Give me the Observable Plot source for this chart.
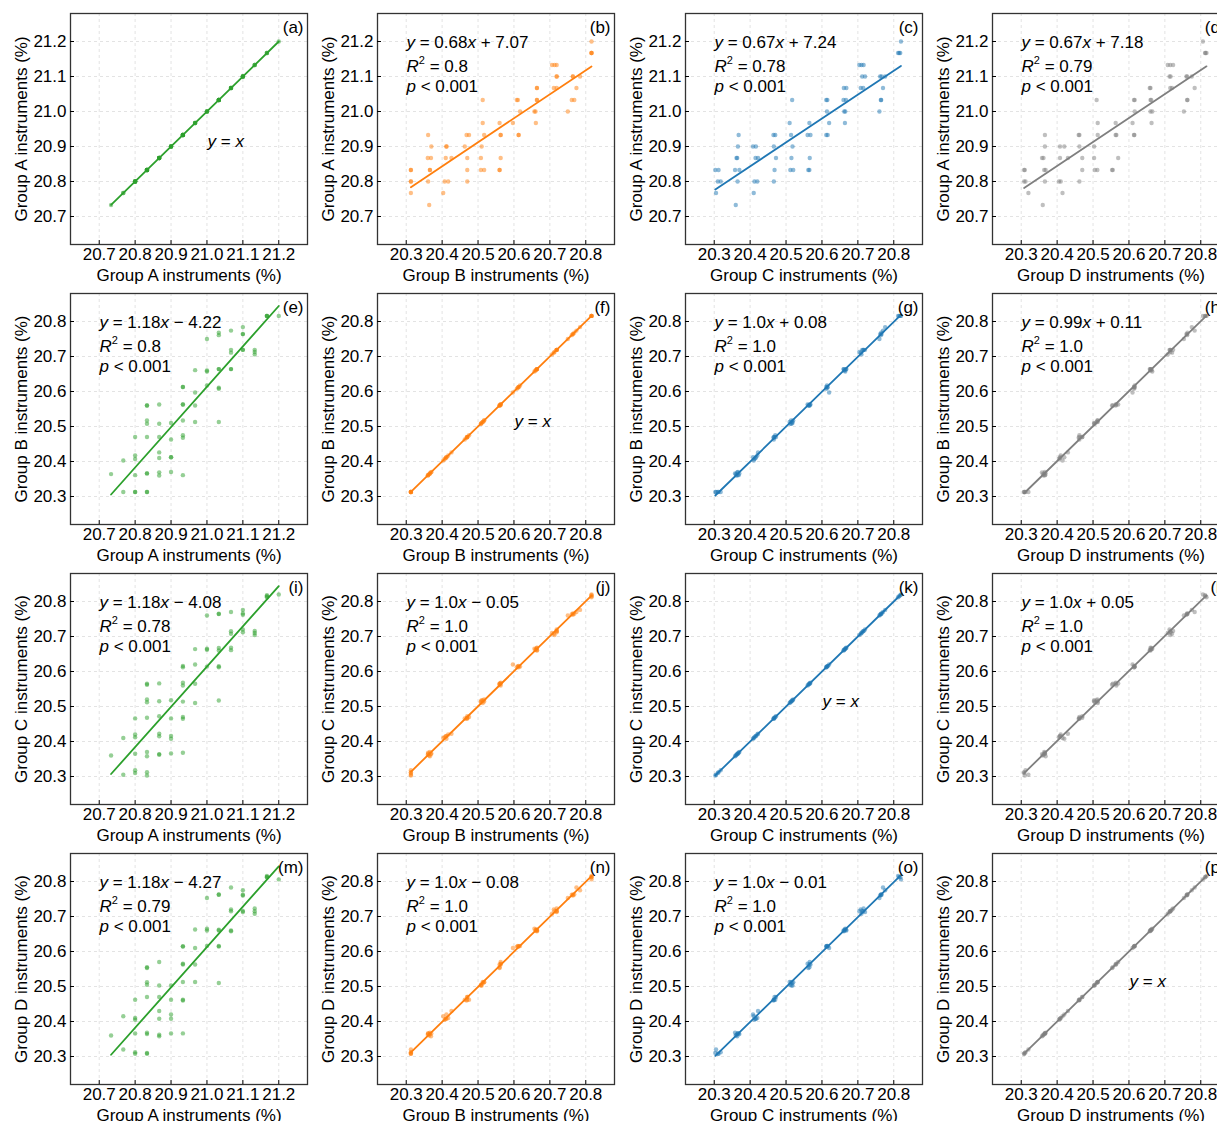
<!DOCTYPE html>
<html><head><meta charset="utf-8">
<script src="https://cdn.jsdelivr.net/npm/d3@7"></script>
<script src="https://cdn.jsdelivr.net/npm/@observablehq/plot@0.6"></script>
<style>
html,body{margin:0;padding:0;background:#fff;}
#fig{position:relative;width:1217px;height:1121px;overflow:hidden;background:#fff;}
.cell{position:absolute;width:307px;height:280px;}
.cell svg{max-width:none !important;}
</style></head><body><div id="fig"></div>
<script>
// ---- data ----
const groups = ["A", "B", "C", "D"];
const groupA = [20.733,20.767,20.767,20.8,20.8,20.8,20.8,20.8,20.8,20.833,20.833,20.833,20.833,20.833,20.833,20.833,20.833,20.833,
  20.867,20.867,20.867,20.867,20.867,20.867,20.867,20.9,20.9,20.9,20.9,20.9,20.933,20.933,20.933,20.933,20.933,20.933,20.933,20.933,
  20.967,20.967,20.967,20.967,21.0,21.0,21.0,21.0,21.033,21.033,21.033,21.033,21.033,21.033,21.033,21.067,21.067,21.067,21.067,21.067,
  21.1,21.1,21.1,21.1,21.1,21.133,21.133,21.133,21.167,21.167,21.167,21.2];
const groupB = [20.364,20.403,20.313,20.313,20.313,20.417,20.407,20.47,20.361,20.313,20.313,20.56,20.56,20.517,20.508,20.47,20.366,20.366,
  20.563,20.508,20.47,20.426,20.41,20.369,20.36,20.51,20.463,20.412,20.412,20.37,20.613,20.613,20.563,20.563,20.517,20.475,20.468,20.361,
  20.661,20.597,20.56,20.513,20.75,20.66,20.657,20.617,20.768,20.761,20.664,20.664,20.611,20.608,20.513,20.774,20.719,20.711,20.664,20.664,
  20.784,20.764,20.764,20.719,20.719,20.719,20.713,20.706,20.816,20.816,20.816,20.816];
const groupC = [20.360,20.410,20.305,20.310,20.318,20.420,20.412,20.466,20.365,20.303,20.312,20.565,20.562,20.520,20.512,20.468,20.358,20.370,
  20.566,20.515,20.472,20.422,20.415,20.364,20.362,20.518,20.466,20.408,20.416,20.366,20.612,20.616,20.568,20.560,20.514,20.470,20.465,20.368,
  20.664,20.620,20.565,20.510,20.760,20.662,20.665,20.614,20.765,20.764,20.660,20.667,20.615,20.612,20.517,20.770,20.715,20.708,20.668,20.661,
  20.776,20.762,20.766,20.712,20.720,20.716,20.704,20.710,20.815,20.818,20.812,20.820];
const groupD = [20.360,20.415,20.320,20.308,20.312,20.410,20.405,20.462,20.366,20.310,20.308,20.555,20.553,20.512,20.505,20.470,20.368,20.364,
  20.570,20.503,20.470,20.430,20.408,20.358,20.362,20.503,20.462,20.420,20.408,20.366,20.615,20.614,20.563,20.565,20.513,20.462,20.460,20.366,
  20.663,20.610,20.563,20.513,20.753,20.660,20.665,20.616,20.763,20.762,20.660,20.662,20.616,20.614,20.510,20.783,20.715,20.720,20.660,20.658,
  20.775,20.760,20.762,20.716,20.713,20.723,20.715,20.708,20.813,20.812,20.816,20.806];
const ticksA = [20.7, 20.8, 20.9, 21.0, 21.1, 21.2];
const ticksBCD = [20.3, 20.4, 20.5, 20.6, 20.7, 20.8];
const panelLetters = ["a","b","c","d","e","f","g","h","i","j","k","l","m","n","o","p"];
const equations = [
  null, "{y} = 0.68{x} + 7.07", "{y} = 0.67{x} + 7.24", "{y} = 0.67{x} + 7.18",
  "{y} = 1.18{x} − 4.22", null, "{y} = 1.0{x} + 0.08", "{y} = 0.99{x} + 0.11",
  "{y} = 1.18{x} − 4.08", "{y} = 1.0{x} − 0.05", null, "{y} = 1.0{x} + 0.05",
  "{y} = 1.18{x} − 4.27", "{y} = 1.0{x} − 0.08", "{y} = 1.0{x} − 0.01", null
];
const rSquared = [null,"0.8","0.78","0.79","0.8",null,"1.0","1.0","0.78","1.0",null,"1.0","0.79","1.0","1.0",null];
const pText = "{p} < 0.001";
const identityText = "{y} = {x}";

// ---- styles ----
const colColors = ["#2ca02c", "#ff7f0e", "#1f77b4", "#7f7f7f"];
const domains = {A: [20.62, 21.28], B: [20.22, 20.88], C: [20.22, 20.88], D: [20.22, 20.88]};
const tickSets = {A: ticksA, B: ticksBCD, C: ticksBCD, D: ticksBCD};
const data = groupA.map((_, i) => ({A: groupA[i], B: groupB[i], C: groupC[i], D: groupD[i]}));

const CELL_W = 307.3, CELL_H = 280;
const fig = document.getElementById("fig");

function mathify(svg) {
  d3.select(svg).selectAll("text").each(function () {
    const s = this.textContent;
    if (!/[{^]/.test(s)) return;
    const el = d3.select(this);
    el.selectAll("*").remove();
    el.text(null);
    const re = /\{([^}]*)\}|\^(\w)|([^{^]+)/g;
    let m, shifted = false;
    while ((m = re.exec(s))) {
      const ts = el.append("tspan");
      if (m[1] !== undefined) {
        ts.attr("font-style", "italic").text(m[1]);
        if (shifted) { ts.attr("dy", 8); shifted = false; }
      } else if (m[2] !== undefined) {
        ts.attr("font-size", "11px").attr("dy", -8).text(m[2]);
        shifted = true;
      } else {
        if (shifted) { ts.attr("dy", 8); shifted = false; }
        ts.text(m[3]);
      }
    }
  });
}

for (let r = 0; r < 4; r++) {
  for (let c = 0; c < 4; c++) {
    const idx = r * 4 + c;
    const xk = groups[c], yk = groups[r];
    const color = colColors[c];
    const marks = [
      Plot.gridX(tickSets[xk], {stroke: "#dcdcdc", strokeOpacity: 1, strokeDasharray: "3,3", strokeWidth: 0.8}),
      Plot.gridY(tickSets[yk], {stroke: "#dcdcdc", strokeOpacity: 1, strokeDasharray: "3,3", strokeWidth: 0.8}),
      Plot.dot(data, {x: xk, y: yk, r: 2.2, fill: color, fillOpacity: 0.5, stroke: "none"}),
      Plot.linearRegressionY(data, {x: xk, y: yk, stroke: color, strokeWidth: 1.8, ci: 0}),
      Plot.frame({stroke: "#333", strokeWidth: 1.3}),
      Plot.axisX(tickSets[xk], {tickFormat: ".1f", tickSize: -4, tickPadding: 7,
        label: `Group ${xk} instruments (%)`, labelAnchor: "center", labelOffset: 36, labelArrow: "none"}),
      Plot.axisY(tickSets[yk], {tickFormat: ".1f", tickSize: -4, tickPadding: 8,
        label: `Group ${yk} instruments (%)`, labelAnchor: "center", labelOffset: 56, labelArrow: "none"}),
      Plot.text([`(${panelLetters[idx]})`], {frameAnchor: "top-right", dx: -4, dy: 14, lineAnchor: "middle", textAnchor: "end"})
    ];
    if (equations[idx]) {
      marks.push(
        Plot.text([equations[idx]], {frameAnchor: "top-left", dx: 29, dy: 29, lineAnchor: "middle", textAnchor: "start"}),
        Plot.text([`{R}^2 = ${rSquared[idx]}`], {frameAnchor: "top-left", dx: 29, dy: 53, lineAnchor: "middle", textAnchor: "start"}),
        Plot.text([pText], {frameAnchor: "top-left", dx: 29, dy: 73, lineAnchor: "middle", textAnchor: "start"})
      );
    } else {
      marks.push(Plot.text([identityText], {frameAnchor: "top-left", dx: 137, dy: 128, lineAnchor: "middle", textAnchor: "start"}));
    }
    const svg = Plot.plot({
      width: 307, height: CELL_H,
      marginLeft: 70, marginRight: 0, marginTop: 13, marginBottom: 36,
      x: {domain: domains[xk]},
      y: {domain: domains[yk]},
      style: {fontFamily: "'Liberation Sans', Arial, sans-serif", fontSize: "17px", color: "#000", background: "transparent", overflow: "visible", maxWidth: "none"},
      marks
    });
    mathify(svg);
    const div = document.createElement("div");
    div.className = "cell";
    div.style.left = (CELL_W * c) + "px";
    div.style.top = (CELL_H * r) + "px";
    div.appendChild(svg);
    fig.appendChild(div);
  }
}
</script></body></html>
